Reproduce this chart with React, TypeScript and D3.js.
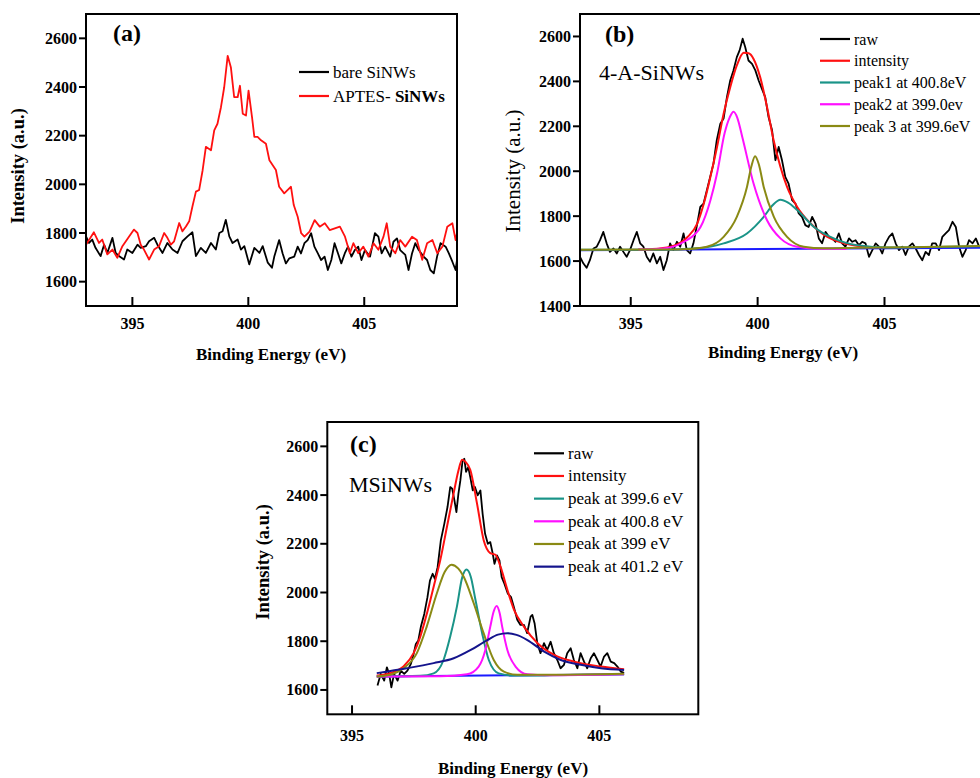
import React from "react";
import * as d3 from "d3";

type Pt = [number, number];

const FONT = "'Liberation Serif', 'Times New Roman', serif";

// tick values
const xTicks = [395, 400, 405];
const yTicksA = [1600, 1800, 2000, 2200, 2400, 2600];
const yTicksB = [1400, 1600, 1800, 2000, 2200, 2400, 2600];
const yTicksC = [1600, 1800, 2000, 2200, 2400, 2600];

// ---- panel (a) ----
const bareSiNWs: Pt[] = [
  [393.0, 1786], [393.13, 1759], [393.27, 1773], [393.41, 1739], [393.63, 1705], [393.78, 1752],
  [393.92, 1718], [394.14, 1780], [394.28, 1718], [394.42, 1705], [394.64, 1691], [394.78, 1732],
  [395.0, 1718], [395.22, 1752], [395.36, 1739], [395.58, 1746], [395.72, 1766], [395.94, 1780],
  [396.08, 1752], [396.3, 1718], [396.51, 1759], [396.73, 1732], [396.95, 1718], [397.16, 1766],
  [397.38, 1786], [397.59, 1803], [397.74, 1705], [397.95, 1739], [398.17, 1718], [398.39, 1759],
  [398.6, 1732], [398.75, 1800], [398.89, 1807], [399.03, 1854], [399.18, 1786], [399.32, 1759],
  [399.54, 1773], [399.68, 1732], [399.83, 1746], [400.04, 1671], [400.26, 1739], [400.48, 1718],
  [400.62, 1746], [400.84, 1678], [401.02, 1657], [401.12, 1703], [401.33, 1771], [401.48, 1716],
  [401.62, 1675], [401.77, 1696], [401.98, 1703], [402.13, 1744], [402.27, 1716], [402.42, 1758],
  [402.56, 1771], [402.71, 1799], [402.85, 1744], [403.0, 1716], [403.14, 1689], [403.29, 1703],
  [403.43, 1648], [403.58, 1689], [403.72, 1758], [403.87, 1716], [404.01, 1675], [404.16, 1716],
  [404.3, 1744], [404.45, 1703], [404.59, 1730], [404.74, 1744], [404.88, 1689], [405.03, 1730],
  [405.25, 1703], [405.46, 1799], [405.61, 1785], [405.75, 1716], [405.9, 1744], [406.12, 1703],
  [406.26, 1764], [406.41, 1778], [406.55, 1730], [406.77, 1710], [406.91, 1648], [407.06, 1716],
  [407.2, 1758], [407.35, 1730], [407.56, 1703], [407.71, 1689], [407.85, 1648], [408.0, 1634],
  [408.14, 1703], [408.29, 1758], [408.51, 1744], [408.65, 1716], [408.8, 1682], [408.94, 1648],
  [409.0, 1689],
];

const aptesSiNWs: Pt[] = [
  [393.0, 1752], [393.34, 1803], [393.56, 1759], [393.7, 1773], [393.92, 1712], [394.14, 1732],
  [394.35, 1698], [394.57, 1746], [394.86, 1786], [395.07, 1814], [395.22, 1800], [395.36, 1752],
  [395.5, 1732], [395.72, 1691], [395.94, 1732], [396.15, 1746], [396.37, 1800], [396.51, 1780],
  [396.66, 1752], [396.8, 1766], [397.02, 1841], [397.16, 1807], [397.31, 1827], [397.45, 1848],
  [397.59, 1909], [397.74, 1970], [397.88, 1977], [398.03, 2058], [398.17, 2154], [398.39, 2140],
  [398.53, 2222], [398.67, 2249], [398.82, 2317], [398.96, 2399], [399.11, 2528], [399.25, 2480],
  [399.39, 2358], [399.54, 2358], [399.64, 2405], [399.76, 2290], [399.9, 2283], [400.01, 2385],
  [400.16, 2276], [400.26, 2195], [400.4, 2195], [400.55, 2181], [400.76, 2167], [400.91, 2099],
  [401.19, 2059], [401.33, 1990], [401.55, 1963], [401.7, 1977], [401.84, 1990], [401.96, 1915],
  [402.13, 1867], [402.28, 1799], [402.42, 1785], [402.64, 1806], [402.86, 1853], [403.08, 1826],
  [403.3, 1840], [403.51, 1812], [403.73, 1819], [403.95, 1826], [404.17, 1785], [404.38, 1717],
  [404.53, 1758], [404.74, 1717], [404.96, 1744], [405.18, 1703], [405.4, 1758], [405.61, 1731],
  [405.83, 1785], [405.97, 1840], [406.12, 1744], [406.34, 1717], [406.55, 1771], [406.77, 1744],
  [407.06, 1785], [407.27, 1771], [407.5, 1690], [407.71, 1758], [407.94, 1771], [408.15, 1717],
  [408.37, 1744], [408.58, 1826], [408.8, 1840], [408.94, 1771], [409.0, 1799],
];

// ---- panel (b) ----
const rawB: Pt[] = [
  [393.0, 1619], [393.13, 1590], [393.26, 1570], [393.39, 1604], [393.53, 1656], [393.66, 1664],
  [393.79, 1693], [393.92, 1730], [394.05, 1679], [394.18, 1641], [394.32, 1656], [394.45, 1634],
  [394.58, 1664], [394.71, 1641], [394.84, 1619], [394.97, 1649], [395.11, 1693], [395.24, 1730],
  [395.37, 1679], [395.5, 1664], [395.63, 1619], [395.76, 1597], [395.89, 1634], [396.03, 1590],
  [396.16, 1619], [396.29, 1560], [396.42, 1604], [396.55, 1679], [396.68, 1649], [396.82, 1686],
  [396.95, 1664], [397.08, 1723], [397.21, 1649], [397.34, 1634], [397.47, 1679], [397.61, 1760],
  [397.74, 1841], [397.87, 1856], [398.0, 1916], [398.13, 1975], [398.26, 2034], [398.39, 2138],
  [398.53, 2212], [398.66, 2235], [398.79, 2330], [398.92, 2404], [399.05, 2450], [399.18, 2508],
  [399.29, 2538], [399.41, 2590], [399.51, 2553], [399.64, 2493], [399.78, 2478], [399.91, 2449],
  [400.04, 2404], [400.17, 2367], [400.3, 2330], [400.43, 2241], [400.57, 2182], [400.7, 2049],
  [400.83, 2108], [400.96, 2049], [401.09, 1975], [401.22, 1945], [401.36, 1871], [401.49, 1856],
  [401.62, 1812], [401.75, 1797], [401.88, 1760], [402.01, 1752], [402.15, 1797], [402.28, 1767],
  [402.41, 1701], [402.54, 1679], [402.68, 1730], [402.81, 1708], [402.94, 1701], [403.07, 1686],
  [403.2, 1723], [403.33, 1679], [403.46, 1664], [403.6, 1701], [403.73, 1686], [403.86, 1693],
  [403.99, 1671], [404.12, 1686], [404.25, 1679], [404.39, 1619], [404.52, 1649], [404.65, 1679],
  [404.78, 1664], [404.91, 1634], [405.04, 1679], [405.18, 1708], [405.31, 1723], [405.44, 1679],
  [405.57, 1649], [405.7, 1664], [405.83, 1627], [405.96, 1664], [406.1, 1679], [406.23, 1656],
  [406.36, 1627], [406.49, 1604], [406.62, 1641], [406.75, 1627], [406.88, 1679], [407.02, 1679],
  [407.15, 1649], [407.28, 1708], [407.41, 1723], [407.54, 1738], [407.68, 1775], [407.81, 1752],
  [407.94, 1664], [408.07, 1619], [408.2, 1649], [408.33, 1693], [408.47, 1679], [408.6, 1701],
  [408.73, 1664], [409.0, 1680],
];
const baselineB: Pt[] = [[393, 1648], [409, 1660]];
const intensityB: Pt[] = [
  [395.3, 1651], [395.8, 1653], [396.57, 1664], [397.22, 1705], [397.62, 1767], [397.88, 1856],
  [398.14, 1975], [398.4, 2108], [398.66, 2256], [398.92, 2374], [399.18, 2471], [399.45, 2528],
  [399.65, 2525], [399.84, 2500], [400.1, 2419], [400.37, 2286], [400.63, 2138], [400.9, 2019],
  [401.16, 1930], [401.56, 1841], [402.09, 1767], [402.62, 1716], [403.4, 1679], [404.6, 1661],
];
const peak1B: Pt[] = [
  [393, 1650], [396.0, 1650], [397.6, 1657], [398.66, 1679], [399.58, 1723], [400.24, 1797],
  [400.6, 1850], [400.9, 1873], [401.2, 1860], [401.56, 1827], [402.22, 1752], [403.0, 1701],
  [403.9, 1671], [405.2, 1661], [407, 1663], [409, 1667],
];
const peak2B: Pt[] = [
  [395.3, 1651], [396.3, 1656], [397.1, 1686], [397.75, 1752], [398.14, 1871], [398.4, 1990],
  [398.7, 2170], [398.9, 2240], [399.05, 2265], [399.2, 2238], [399.4, 2150], [399.84, 1945],
  [400.37, 1782], [400.9, 1701], [401.56, 1664], [402.5, 1655], [403.5, 1654],
];
const peak3B: Pt[] = [
  [393, 1650], [396, 1651], [397.1, 1653], [398.0, 1664], [398.66, 1708], [399.18, 1797],
  [399.58, 1930], [399.75, 2020], [399.9, 2067], [400.05, 2030], [400.24, 1930], [400.64, 1797],
  [401.16, 1708], [401.82, 1664], [402.6, 1657], [404, 1659], [406, 1662], [409, 1667],
];

// ---- panel (c) ----
const rawC: Pt[] = [
  [396.03, 1618], [396.16, 1666], [396.3, 1638], [396.41, 1693], [396.5, 1666], [396.59, 1611],
  [396.7, 1666], [396.84, 1638], [396.97, 1679], [397.11, 1666], [397.24, 1679], [397.38, 1707],
  [397.49, 1748], [397.58, 1789], [397.68, 1803], [397.78, 1858], [397.92, 1912], [398.05, 1981],
  [398.15, 2049], [398.26, 2077], [398.35, 2056], [398.46, 2104], [398.59, 2214], [398.73, 2282],
  [398.86, 2351], [398.97, 2433], [399.05, 2426], [399.14, 2378], [399.22, 2330], [399.3, 2405],
  [399.38, 2460], [399.47, 2542], [399.54, 2549], [399.61, 2495], [399.7, 2515], [399.78, 2474],
  [399.88, 2419], [399.97, 2433], [400.08, 2399], [400.19, 2419], [400.28, 2323], [400.38, 2241],
  [400.49, 2200], [400.59, 2207], [400.69, 2159], [400.76, 2118], [400.86, 2152], [400.96, 2132],
  [401.05, 2063], [401.16, 2036], [401.3, 1995], [401.43, 1981], [401.54, 1942], [401.68, 1888],
  [401.81, 1867], [401.95, 1867], [402.08, 1833], [402.22, 1901], [402.29, 1908], [402.38, 1874],
  [402.49, 1792], [402.62, 1751], [402.76, 1792], [402.89, 1764], [403.03, 1798], [403.16, 1751],
  [403.3, 1723], [403.43, 1689], [403.57, 1703], [403.7, 1751], [403.84, 1771], [403.97, 1723],
  [404.11, 1689], [404.24, 1751], [404.38, 1716], [404.51, 1689], [404.65, 1730], [404.78, 1751],
  [404.92, 1723], [405.05, 1696], [405.19, 1737], [405.32, 1751], [405.46, 1716], [405.6, 1710],
  [405.73, 1696], [405.87, 1675], [406.0, 1670],
];
const baselineC: Pt[] = [[396, 1655], [406, 1664]];
const intensityC: Pt[] = [
  [396, 1659], [396.54, 1669], [397.08, 1696], [397.49, 1751], [397.76, 1819], [398.03, 1915],
  [398.3, 2024], [398.57, 2134], [398.84, 2271], [399.11, 2408], [399.3, 2500], [399.45, 2545],
  [399.6, 2535], [399.78, 2504], [400.05, 2367], [400.32, 2216], [400.59, 2162], [400.8, 2155],
  [401.0, 2107], [401.28, 2011], [401.55, 1929], [401.95, 1860], [402.5, 1792], [403.17, 1744],
  [403.98, 1716], [405.06, 1696], [406, 1685],
];
const peak3996C: Pt[] = [
  [396, 1655], [397.76, 1658], [398.3, 1668], [398.7, 1723], [398.97, 1819], [399.24, 1942],
  [399.45, 2060], [399.63, 2094], [399.8, 2065], [399.99, 1970], [400.26, 1833], [400.53, 1723],
  [400.93, 1668], [401.54, 1659], [403, 1660], [406, 1664],
];
const peak4008C: Pt[] = [
  [396, 1655], [396.7, 1655], [398.57, 1656], [399.65, 1664], [400.12, 1696], [400.39, 1764],
  [400.59, 1860], [400.72, 1920], [400.85, 1945], [400.97, 1915], [401.07, 1860], [401.28, 1764],
  [401.61, 1696], [402.09, 1664], [402.9, 1660], [406, 1664],
];
const peak399C: Pt[] = [
  [396, 1655], [396.54, 1662], [397.08, 1689], [397.62, 1751], [398.02, 1860], [398.43, 1997],
  [398.75, 2085], [399.02, 2114], [399.3, 2098], [399.51, 2066], [399.92, 1956], [400.32, 1833],
  [400.73, 1723], [401.14, 1675], [401.68, 1662], [403, 1662], [406, 1666],
];
const peak4012C: Pt[] = [
  [396, 1669], [397.22, 1689], [398.3, 1710], [399.11, 1730], [399.8, 1764], [400.47, 1805],
  [400.9, 1827], [401.28, 1833], [401.65, 1826], [402.09, 1805], [402.77, 1757], [403.44, 1723],
  [404.25, 1703], [405.06, 1689], [406, 1682],
];

const C = {
  black: "#000000",
  red: "#ff1010",
  teal: "#1a9488",
  magenta: "#ff10ff",
  olive: "#8a8a14",
  navy: "#14148c",
  blue: "#1a1aff",
};

interface Series { data: Pt[]; color: string; smooth?: boolean }
interface LegendItem { label: React.ReactNode; color: string }

interface PanelProps {
  x0: number; y0: number; w: number; h: number;
  xDomain: [number, number]; yDomain: [number, number];
  yTicks: number[];
  series: Series[];
  tag: string; tagX: number; tagY: number;
  note?: string; noteX?: number; noteY?: number;
  legend: LegendItem[]; legX: number; legY: number; legStep: number; legFont: number;
  yTitle: { x: number; y: number; bold: boolean; size: number };
  xTitleY: number; xTitleX: number;
  xLabelDy: number;
}

function Panel(p: PanelProps) {
  const x = d3.scaleLinear().domain(p.xDomain).range([p.x0, p.x0 + p.w]);
  const y = d3.scaleLinear().domain(p.yDomain).range([p.y0 + p.h, p.y0]);
  const raw = d3.line<Pt>().x((d) => x(d[0])).y((d) => y(d[1]));
  const fit = d3.line<Pt>().x((d) => x(d[0])).y((d) => y(d[1])).curve(d3.curveMonotoneX);
  const bottom = p.y0 + p.h;

  return (
    <g>
      {p.series.map((s, i) => (
        <path key={i} d={(s.smooth ? fit : raw)(s.data) || ""} fill="none" stroke={s.color}
          strokeWidth={s.smooth ? 2 : 1.8} strokeLinejoin="round" />
      ))}
      <rect x={p.x0} y={p.y0} width={p.w} height={p.h} fill="none" stroke="#000" strokeWidth={2} />
      {p.yTicks.map((t) => (
        <g key={t}>
          <line x1={p.x0 - 7} x2={p.x0} y1={y(t)} y2={y(t)} stroke="#000" strokeWidth={2} />
          <text x={p.x0 - 9} y={y(t)} textAnchor="end" dominantBaseline="central"
            fontFamily={FONT} fontWeight="bold" fontSize={16}>{t}</text>
        </g>
      ))}
      {xTicks.map((t) => (
        <g key={t}>
          <line x1={x(t)} x2={x(t)} y1={bottom} y2={bottom - 9} stroke="#000" strokeWidth={2} />
          <text x={x(t)} y={bottom + p.xLabelDy} textAnchor="middle"
            fontFamily={FONT} fontWeight="bold" fontSize={16}>{t}</text>
        </g>
      ))}
      <text x={p.xTitleX} y={p.xTitleY} textAnchor="middle" fontFamily={FONT}
        fontWeight="bold" fontSize={17}>Binding Energy (eV)</text>
      <text transform={`translate(${p.yTitle.x},${p.yTitle.y}) rotate(-90)`} textAnchor="middle"
        dominantBaseline="central" fontFamily={FONT} fontWeight={p.yTitle.bold ? "bold" : "normal"}
        fontSize={p.yTitle.size}>Intensity (a.u.)</text>
      <text x={p.tagX} y={p.tagY} fontFamily={FONT} fontWeight="bold" fontSize={24}>{p.tag}</text>
      {p.note && (
        <text x={p.noteX} y={p.noteY} fontFamily={FONT} fontSize={22}>{p.note}</text>
      )}
      {p.legend.map((l, i) => {
        const ly = p.legY + i * p.legStep;
        return (
          <g key={i}>
            <line x1={p.legX} x2={p.legX + 30} y1={ly} y2={ly} stroke={l.color} strokeWidth={2.2} />
            <text x={p.legX + 34} y={ly + 5.5} fontFamily={FONT} fontSize={p.legFont}>{l.label}</text>
          </g>
        );
      })}
    </g>
  );
}

const App = () => {
  return (
    <svg width={980} height={778} style={{ position: "absolute", left: 0, top: 0, background: "#fff" }}>
      <rect x={0} y={0} width={980} height={778} fill="#fff" />
      <Panel
        x0={86} y0={14} w={371} h={292}
        xDomain={[393, 409]} yDomain={[1500, 2700]} yTicks={yTicksA}
        series={[
          { data: bareSiNWs, color: C.black },
          { data: aptesSiNWs, color: C.red },
        ]}
        tag="(a)" tagX={113} tagY={41}
        legend={[
          { label: "bare SiNWs", color: C.black },
          { label: <>APTES- <tspan fontWeight="bold">SiNWs</tspan></>, color: C.red },
        ]}
        legX={299} legY={72} legStep={24} legFont={17}
        yTitle={{ x: 18, y: 166, bold: true, size: 18.5 }}
        xTitleX={271} xTitleY={360} xLabelDy={22.5}
      />
      <Panel
        x0={580} y0={14} w={406} h={292}
        xDomain={[393, 409]} yDomain={[1400, 2700]} yTicks={yTicksB}
        series={[
          { data: rawB, color: C.black },
          { data: baselineB, color: C.blue, smooth: true },
          { data: intensityB, color: C.red, smooth: true },
          { data: peak1B, color: C.teal, smooth: true },
          { data: peak2B, color: C.magenta, smooth: true },
          { data: peak3B, color: C.olive, smooth: true },
        ]}
        tag="(b)" tagX={605} tagY={42}
        note="4-A-SiNWs" noteX={599} noteY={80}
        legend={[
          { label: "raw", color: C.black },
          { label: "intensity", color: C.red },
          { label: "peak1 at 400.8eV", color: C.teal },
          { label: "peak2 at 399.0ev", color: C.magenta },
          { label: "peak 3 at 399.6eV", color: C.olive },
        ]}
        legX={820} legY={39} legStep={21.75} legFont={16}
        yTitle={{ x: 513, y: 171, bold: false, size: 21 }}
        xTitleX={783} xTitleY={358} xLabelDy={22.5}
      />
      <Panel
        x0={327.3} y0={422} w={371} h={292.3}
        xDomain={[394, 409]} yDomain={[1500, 2700]} yTicks={yTicksC}
        series={[
          { data: rawC, color: C.black },
          { data: baselineC, color: C.blue, smooth: true },
          { data: intensityC, color: C.red, smooth: true },
          { data: peak3996C, color: C.teal, smooth: true },
          { data: peak4008C, color: C.magenta, smooth: true },
          { data: peak399C, color: C.olive, smooth: true },
          { data: peak4012C, color: C.navy, smooth: true },
        ]}
        tag="(c)" tagX={350} tagY={452}
        note="MSiNWs" noteX={349} noteY={492}
        legend={[
          { label: "raw", color: C.black },
          { label: "intensity", color: C.red },
          { label: "peak at 399.6 eV", color: C.teal },
          { label: "peak at 400.8 eV", color: C.magenta },
          { label: "peak at 399 eV", color: C.olive },
          { label: "peak at 401.2 eV", color: C.navy },
        ]}
        legX={534} legY={453.3} legStep={22.67} legFont={17}
        yTitle={{ x: 263, y: 562, bold: true, size: 18.5 }}
        xTitleX={513} xTitleY={774} xLabelDy={26.5}
      />
    </svg>
  );
};

export default App;
